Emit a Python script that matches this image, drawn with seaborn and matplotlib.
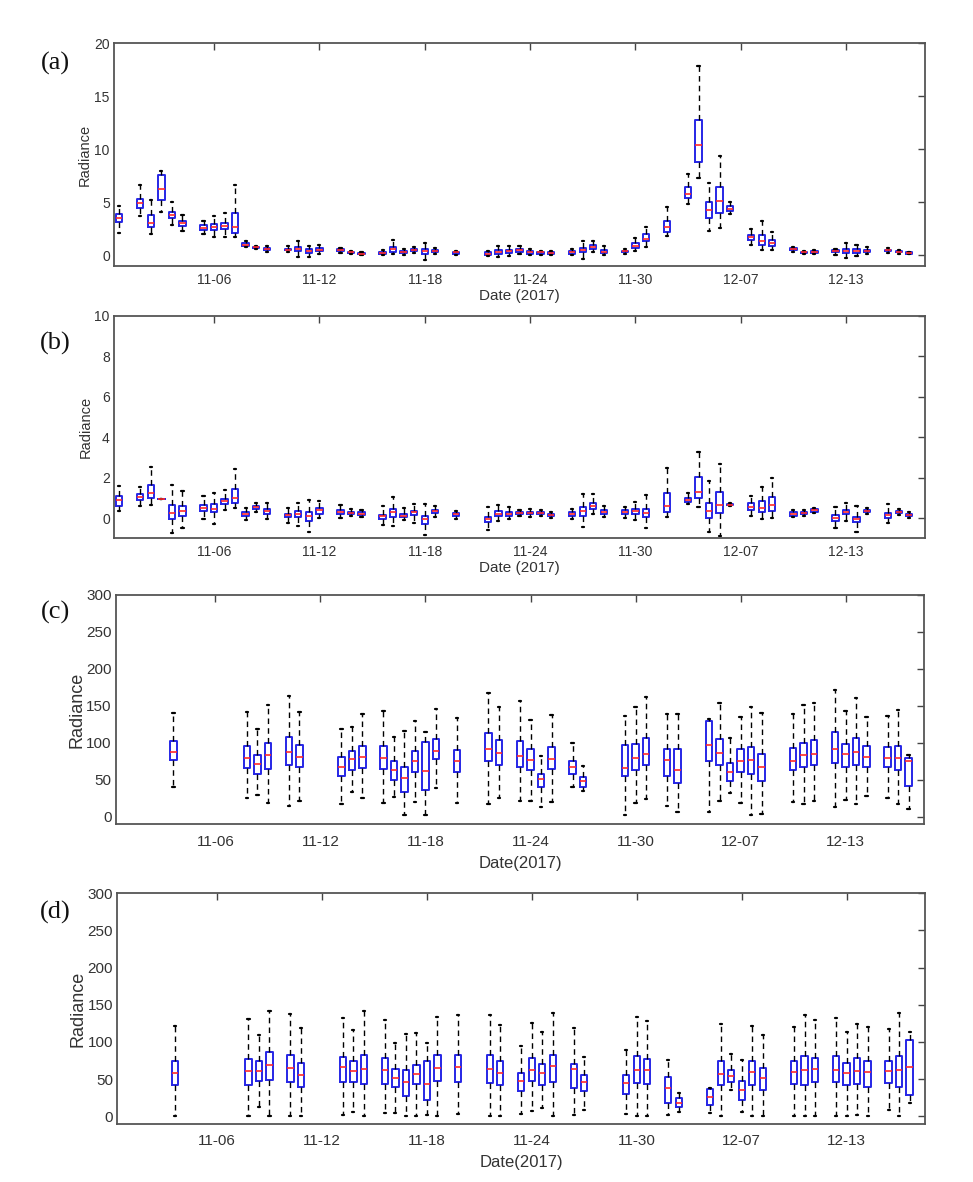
import numpy as np
import pandas as pd
import matplotlib
matplotlib.use("Agg")
import matplotlib.pyplot as plt
import seaborn as sns

# ---------------- data ----------------
# box positions (observation index); tick labels every 10 positions
pos_ab = [1, 3, 4, 5, 6, 7, 9, 10, 11, 12, 13, 14, 15, 17, 18, 19, 20, 22, 23, 24,
          26, 27, 28, 29, 30, 31, 33, 36, 37, 38, 39, 40, 41, 42, 44, 45, 46, 47,
          49, 50, 51, 53, 55, 56, 57, 58, 59, 61, 62, 63, 65, 66, 67, 69, 70, 71,
          72, 74, 75, 76]
pos_cd = [6, 13, 14, 15, 17, 18, 22, 23, 24, 26, 27, 28, 29, 30, 31, 33, 36, 37,
          39, 40, 41, 42, 44, 45, 49, 50, 51, 53, 54, 57, 58, 59, 60, 61, 62, 65,
          66, 67, 69, 70, 71, 72, 74, 75, 76]

tick_pos = [10, 20, 30, 40, 50, 60, 70]
tick_labels = ["11-06", "11-12", "11-18", "11-24", "11-30", "12-07", "12-13"]

# (lower whisker, Q1, median, Q3, upper whisker)
box_a = [(2.1, 3.1, 3.5, 3.9, 4.6), (3.7, 4.45, 4.9, 5.3, 6.6), (2.0, 2.65, 3.05, 3.8, 5.2),
         (4.1, 5.25, 6.2, 7.6, 7.95), (2.8, 3.5, 3.8, 4.05, 5.0), (2.3, 2.75, 3.0, 3.2, 3.75),
         (2.0, 2.4, 2.6, 2.8, 3.2), (1.75, 2.4, 2.65, 2.95, 3.65), (1.75, 2.45, 2.75, 3.0, 3.95),
         (1.7, 2.05, 2.65, 3.95, 6.6), (0.75, 0.85, 1.0, 1.15, 1.3), (0.55, 0.65, 0.75, 0.8, 0.9),
         (0.25, 0.45, 0.55, 0.7, 0.9), (0.3, 0.45, 0.5, 0.6, 0.85), (-0.15, 0.4, 0.6, 0.8, 1.3),
         (-0.15, 0.2, 0.4, 0.55, 0.9), (0.1, 0.35, 0.5, 0.65, 0.95), (0.2, 0.35, 0.45, 0.55, 0.7),
         (0.1, 0.2, 0.25, 0.3, 0.4), (0.0, 0.1, 0.15, 0.2, 0.25), (0.0, 0.15, 0.2, 0.3, 0.45),
         (0.1, 0.3, 0.55, 0.8, 1.4), (0.0, 0.2, 0.3, 0.4, 0.6), (0.2, 0.35, 0.45, 0.55, 0.75),
         (-0.5, 0.15, 0.4, 0.55, 1.15), (0.1, 0.3, 0.4, 0.5, 0.7), (0.05, 0.15, 0.25, 0.3, 0.4),
         (-0.1, 0.05, 0.15, 0.25, 0.4), (-0.15, 0.15, 0.3, 0.5, 0.9), (-0.1, 0.2, 0.35, 0.5, 0.9),
         (0.1, 0.3, 0.45, 0.55, 0.85), (0.0, 0.15, 0.3, 0.4, 0.6), (0.05, 0.15, 0.25, 0.3, 0.4),
         (0.05, 0.15, 0.2, 0.25, 0.35), (0.0, 0.15, 0.25, 0.35, 0.55), (-0.4, 0.25, 0.45, 0.65, 1.3),
         (0.25, 0.55, 0.8, 1.0, 1.3), (0.0, 0.2, 0.3, 0.45, 0.85), (0.15, 0.25, 0.35, 0.4, 0.55),
         (0.4, 0.65, 0.9, 1.15, 1.6), (0.8, 1.3, 1.55, 1.95, 2.7), (1.85, 2.2, 2.65, 3.2, 4.5),
         (4.85, 5.4, 5.75, 6.4, 7.7), (7.3, 8.75, 10.4, 12.75, 17.9), (2.3, 3.55, 4.25, 5.05, 6.85),
         (2.6, 3.95, 5.1, 6.4, 9.4), (3.9, 4.2, 4.4, 4.65, 5.05), (1.0, 1.45, 1.7, 1.9, 2.45),
         (0.5, 1.0, 1.3, 1.9, 3.25), (0.5, 0.85, 1.15, 1.45, 2.15), (0.3, 0.45, 0.55, 0.65, 0.8),
         (0.1, 0.2, 0.25, 0.3, 0.4), (0.1, 0.2, 0.3, 0.35, 0.5), (0.05, 0.25, 0.35, 0.45, 0.6),
         (-0.3, 0.2, 0.4, 0.6, 1.1), (-0.1, 0.2, 0.35, 0.55, 0.95), (0.1, 0.3, 0.4, 0.5, 0.8),
         (0.2, 0.35, 0.45, 0.5, 0.65), (0.15, 0.25, 0.3, 0.35, 0.45), (0.1, 0.15, 0.2, 0.25, 0.3)]

box_b = [(0.36, 0.6, 0.9, 1.07, 1.6), (0.6, 0.88, 1.02, 1.17, 1.52), (0.64, 1.0, 1.25, 1.62, 2.5),
         (0.95, 0.95, 0.95, 0.95, 0.95), (-0.75, -0.07, 0.27, 0.64, 1.63), (-0.5, 0.08, 0.35, 0.62, 1.36),
         (-0.07, 0.33, 0.5, 0.64, 1.08), (-0.27, 0.28, 0.47, 0.68, 1.25), (0.38, 0.68, 0.85, 0.95, 1.37),
         (0.52, 0.76, 0.98, 1.45, 2.42), (-0.1, 0.1, 0.18, 0.3, 0.5), (0.3, 0.45, 0.55, 0.6, 0.75),
         (-0.05, 0.22, 0.33, 0.45, 0.75), (-0.25, 0.05, 0.15, 0.22, 0.5), (-0.4, 0.05, 0.2, 0.35, 0.75),
         (-0.68, -0.13, 0.1, 0.28, 0.88), (0.0, 0.22, 0.38, 0.5, 0.86), (0.0, 0.2, 0.3, 0.4, 0.65),
         (0.1, 0.2, 0.27, 0.32, 0.45), (0.05, 0.15, 0.22, 0.3, 0.4), (-0.33, -0.05, 0.08, 0.17, 0.6),
         (-0.38, 0.07, 0.28, 0.43, 1.02), (-0.1, 0.05, 0.12, 0.22, 0.5), (-0.25, 0.15, 0.28, 0.36, 0.7),
         (-0.83, -0.27, -0.05, 0.1, 0.7), (0.05, 0.25, 0.35, 0.42, 0.62), (-0.05, 0.1, 0.18, 0.25, 0.35),
         (-0.6, -0.18, -0.05, 0.07, 0.53), (-0.15, 0.1, 0.22, 0.35, 0.65), (-0.05, 0.1, 0.2, 0.3, 0.55),
         (0.1, 0.2, 0.25, 0.3, 0.4), (0.05, 0.18, 0.25, 0.3, 0.45), (0.1, 0.2, 0.25, 0.3, 0.42),
         (0.0, 0.1, 0.15, 0.2, 0.3), (-0.05, 0.12, 0.2, 0.28, 0.45), (-0.43, 0.12, 0.36, 0.53, 1.19),
         (0.2, 0.45, 0.6, 0.76, 1.19), (0.05, 0.2, 0.3, 0.38, 0.6), (0.02, 0.2, 0.3, 0.38, 0.55),
         (-0.1, 0.2, 0.36, 0.46, 0.78), (-0.5, 0.06, 0.26, 0.46, 1.14), (0.07, 0.31, 0.61, 1.22, 2.46),
         (0.7, 0.8, 0.9, 0.98, 1.26), (0.53, 0.99, 1.3, 2.05, 3.26), (-0.71, 0.0, 0.33, 0.74, 1.82),
         (-0.88, 0.23, 0.66, 1.27, 2.68), (0.6, 0.63, 0.66, 0.7, 0.72), (0.12, 0.4, 0.56, 0.73, 1.09),
         (-0.03, 0.3, 0.48, 0.84, 1.55), (-0.02, 0.36, 0.64, 1.06, 2.0), (0.05, 0.12, 0.2, 0.28, 0.38),
         (0.1, 0.18, 0.25, 0.3, 0.4), (0.25, 0.32, 0.4, 0.45, 0.52), (-0.48, -0.13, 0.02, 0.15, 0.53),
         (-0.13, 0.2, 0.31, 0.4, 0.73), (-0.68, -0.21, -0.07, 0.07, 0.6), (0.2, 0.28, 0.33, 0.38, 0.5),
         (-0.26, 0.02, 0.17, 0.26, 0.69), (0.15, 0.25, 0.3, 0.35, 0.45), (0.0, 0.08, 0.15, 0.2, 0.28)]

box_c = [(40, 77, 88, 102, 140), (26, 66, 79, 96, 141), (29, 58, 72, 83, 118), (19, 65, 83, 100, 151),
         (15, 70, 87, 108, 163), (22, 67, 81, 97, 142), (18, 55, 67, 81, 118), (33, 63, 78, 89, 121),
         (25, 66, 81, 96, 139), (19, 64, 79, 96, 143), (27, 50, 63, 75, 108), (2, 34, 52, 68, 116),
         (20, 60, 75, 89, 130), (2, 36, 62, 101, 115), (39, 78, 89, 105, 146), (19, 61, 75, 90, 133),
         (18, 75, 92, 113, 167), (25, 70, 86, 104, 149), (21, 67, 82, 103, 156), (22, 63, 77, 91, 131),
         (14, 40, 51, 58, 82), (20, 64, 78, 95, 138), (40, 58, 67, 75, 100), (35, 40, 48, 54, 69),
         (3, 55, 66, 97, 136), (19, 63, 80, 98, 148), (24, 70, 85, 107, 162), (15, 55, 77, 92, 139),
         (6, 46, 63, 92, 139), (6, 75, 97, 129, 132), (22, 70, 86, 105, 154), (32, 49, 60, 73, 106),
         (19, 61, 75, 91, 135), (3, 58, 77, 95, 148), (4, 49, 68, 85, 140), (20, 63, 76, 93, 139),
         (17, 67, 84, 100, 151), (22, 70, 85, 104, 154), (14, 73, 92, 114, 172), (23, 68, 85, 98, 143),
         (18, 70, 87, 106, 160), (28, 67, 81, 96, 135), (25, 67, 80, 95, 136), (18, 63, 79, 96, 144),
         (10, 42, 75, 79, 84)]

box_d = [(1, 42, 58, 74, 121), (1, 42, 61, 77, 131), (13, 47, 61, 74, 110), (1, 49, 69, 87, 142),
         (1, 46, 65, 83, 138), (1, 39, 56, 72, 119), (2, 46, 66, 80, 132), (6, 46, 61, 75, 116),
         (1, 44, 64, 83, 141), (4, 44, 62, 78, 129), (5, 39, 52, 64, 98), (1, 27, 46, 62, 111),
         (1, 44, 57, 69, 112), (2, 22, 44, 74, 98), (1, 48, 65, 83, 133), (3, 46, 66, 83, 136),
         (1, 45, 64, 82, 136), (1, 42, 58, 75, 123), (3, 34, 47, 58, 95), (7, 47, 62, 78, 126),
         (11, 42, 58, 70, 113), (1, 46, 67, 83, 139), (2, 38, 64, 70, 119), (8, 34, 46, 55, 80),
         (3, 30, 45, 55, 89), (1, 45, 62, 81, 134), (1, 44, 62, 77, 128), (2, 18, 38, 53, 76),
         (6, 13, 18, 24, 31), (5, 15, 26, 37, 38), (1, 42, 57, 75, 124), (36, 46, 54, 62, 84),
         (6, 22, 35, 47, 76), (1, 42, 60, 74, 122), (1, 35, 52, 65, 109), (1, 44, 60, 75, 120),
         (1, 42, 62, 81, 136), (1, 46, 64, 79, 129), (1, 46, 62, 81, 132), (1, 42, 58, 72, 114),
         (2, 44, 61, 78, 124), (1, 40, 60, 74, 120), (8, 45, 61, 75, 118), (1, 40, 62, 81, 139),
         (18, 28, 66, 103, 113)]

panel_letters = ["(a)", "(b)", "(c)", "(d)"]
xlabels = ["Date (2017)", "Date (2017)", "Date(2017)", "Date(2017)"]
ylabel = "Radiance"

# ---------------- style ----------------
sns.set_style("white")
plt.rcParams["font.family"] = ["Liberation Sans", "DejaVu Sans"]
NARROW = ["Liberation Sans Narrow", "Liberation Sans", "DejaVu Sans"]

W, H = 973, 1182
fig = plt.figure(figsize=(W / 100, H / 100), dpi=100)

# pixel boxes (left, top, right, bottom)
rects = [(114, 43.3, 925, 265.7), (114, 315.7, 925, 538.3),
         (115.7, 594.7, 924.3, 824.3), (117.3, 893.3, 925.3, 1123.7)]
ylims = [(-1, 20), (-1, 10), (-10, 300), (-10, 300)]
yticks = [[0, 5, 10, 15, 20], [0, 2, 4, 6, 8, 10], [0, 50, 100, 150, 200, 250, 300],
          [0, 50, 100, 150, 200, 250, 300]]
tick_fs = [10, 10, 11, 11]
xpad = [5, 5, 7.5, 7.5]
ylab_fs = [10.5, 10.5, 13, 13]
ylab_pad = [1.5, 1.5, 0.5, 0.5]
xlab_fs = [11, 11, 12, 12]
xlab_pad = [1.5, 1.5, 5, 5]
letter_y = [63, 343, 612, 912]

panels = [(pos_ab, box_a), (pos_ab, box_b), (pos_cd, box_c), (pos_cd, box_d)]

for i, ((pos, boxes), (l, t, r, b)) in enumerate(zip(panels, rects)):
    ax = fig.add_axes([l / W, 1 - b / H, (r - l) / W, (b - t) / H])
    rows = []
    for p, st in zip(pos, boxes):
        for v in st:
            rows.append((p, v))
    df = pd.DataFrame(rows, columns=["pos", "val"])
    sns.boxplot(data=df, x="pos", y="val", native_scale=True, whis=(0, 100),
                width=0.6, fill=False, color="#2626e6", linewidth=1.4,
                showfliers=False,
                medianprops={"color": "#ff2a2a", "linewidth": 1.2},
                whiskerprops={"color": "black", "linestyle": (0, (4, 3)), "linewidth": 1.0},
                capprops={"color": "black", "linewidth": 1.6},
                capwidths=0.2,
                ax=ax)
    ax.set_xlim(0.5, 77.5)
    ax.set_ylim(*ylims[i])
    ax.set_xticks(tick_pos)
    ax.set_xticklabels(tick_labels)
    ax.set_yticks(yticks[i])
    ax.tick_params(direction="in", top=True, right=True, length=5, width=1.0,
                   color="#444444", labelsize=tick_fs[i], labelcolor="#333333")
    ax.tick_params(axis="y", pad=3)
    ax.tick_params(axis="x", pad=xpad[i])
    for lab in ax.get_xticklabels() + ax.get_yticklabels():
        lab.set_family(NARROW)
    for s in ax.spines.values():
        s.set_color("#555555")
        s.set_linewidth(1.3)
    ax.set_xlabel(xlabels[i], fontsize=xlab_fs[i], color="#333333",
                  labelpad=xlab_pad[i], family=NARROW)
    ax.set_ylabel(ylabel, fontsize=ylab_fs[i], color="#333333", labelpad=ylab_pad[i])
    fig.text(55 / W, 1 - letter_y[i] / H, panel_letters[i], ha="center", va="center",
             fontsize=19, family="Liberation Serif", color="#111111")

fig.savefig("out.png", dpi=100)
